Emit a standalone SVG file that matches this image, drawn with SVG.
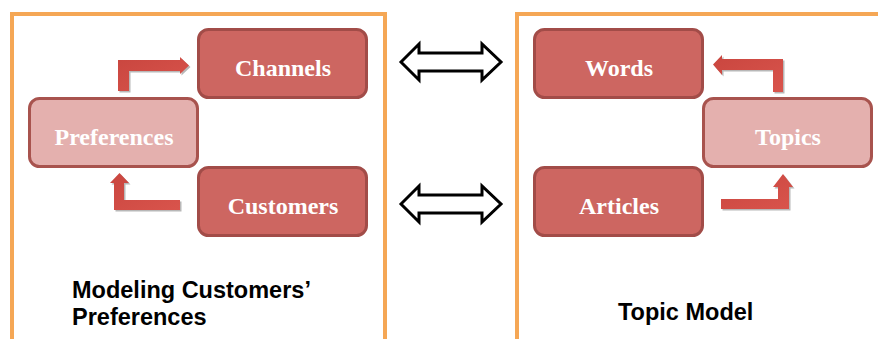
<svg xmlns="http://www.w3.org/2000/svg" width="878" height="339" viewBox="0 0 878 339">
<style>
.frame{fill:none;stroke:#F5A755;stroke-width:4}
.node{fill:#CD6661;stroke:#A24C48;stroke-width:3}
.light{fill:#E4B0AE;stroke:#A8534E;stroke-width:3}
.nt{font-family:"Liberation Serif","Times New Roman",serif;font-weight:bold;font-size:24px;fill:#ffffff;text-anchor:middle}
.lbl{font-family:"Liberation Sans",Arial,sans-serif;font-weight:bold;font-size:23.5px;fill:#000000}
.dbl{fill:#ffffff;stroke:#000000;stroke-width:3;stroke-linejoin:miter}
.ra{fill:url(#rg)}
.sh{fill:#9a9a9a;opacity:0.7}
</style>
<defs>
<linearGradient id="rg" x1="0" y1="0" x2="1" y2="1">
<stop offset="0" stop-color="#C9463F"/>
<stop offset="1" stop-color="#D9544C"/>
</linearGradient>
</defs>
<g id="frames">
<path class="frame" d="M12,339 V14 H385 V339"/>
<path class="frame" d="M517,339 V14 H880"/>
</g>
<g id="channels"><rect class="node" x="198.5" y="29.5" width="168" height="68" rx="10"/><text class="nt" x="283" y="76">Channels</text></g>
<g id="preferences"><rect class="light" x="29.5" y="98.5" width="168" height="68" rx="10"/><text class="nt" x="114" y="145">Preferences</text></g>
<g id="customers"><rect class="node" x="198.5" y="167.5" width="168" height="68" rx="10"/><text class="nt" x="283" y="214">Customers</text></g>
<g id="words"><rect class="node" x="534.5" y="29.5" width="168" height="68" rx="10"/><text class="nt" x="619" y="76">Words</text></g>
<g id="topics"><rect class="light" x="703.5" y="98.5" width="168" height="68" rx="10"/><text class="nt" x="788" y="145">Topics</text></g>
<g id="articles"><rect class="node" x="534.5" y="167.5" width="168" height="68" rx="10"/><text class="nt" x="619" y="214">Articles</text></g>
<g id="connectors">
<polygon class="sh" transform="translate(1.5,1.5)" points="118,91 118,60 180,60 180,57 189,65.5 180,74 180,71 129,71 129,91"/>
<polygon class="ra" points="118,91 118,60 180,60 180,57 189,65.5 180,74 180,71 129,71 129,91"/>
<polygon class="sh" transform="translate(1.5,1.5)" points="119.5,173 129,183 124,183 124,200 180,200 180,210 114,210 114,183 110,183"/>
<polygon class="ra" points="119.5,173 129,183 124,183 124,200 180,200 180,210 114,210 114,183 110,183"/>
<polygon class="sh" transform="translate(1.5,1.5)" points="713,64.5 722,55 722,59 783,59 783,92 773,92 773,70 722,70 722,75"/>
<polygon class="ra" points="713,64.5 722,55 722,59 783,59 783,92 773,92 773,70 722,70 722,75"/>
<polygon class="sh" transform="translate(1.5,1.5)" points="783,174 793,187 789,187 789,209 721,209 721,199 778,199 778,187 773,187"/>
<polygon class="ra" points="783,174 793,187 789,187 789,209 721,209 721,199 778,199 778,187 773,187"/>
<polygon class="dbl" points="401,62 419,44 419,53 482,53 482,44 501,62 482,80 482,71 419,71 419,80"/>
<polygon class="dbl" points="401,204 419,186 419,195 482,195 482,186 501,204 482,222 482,213 419,213 419,222"/>
</g>
<g id="labels">
<text class="lbl" x="72" y="298">Modeling Customers’</text>
<text class="lbl" x="72" y="325">Preferences</text>
<text class="lbl" x="618" y="320">Topic Model</text>
</g>
</svg>
